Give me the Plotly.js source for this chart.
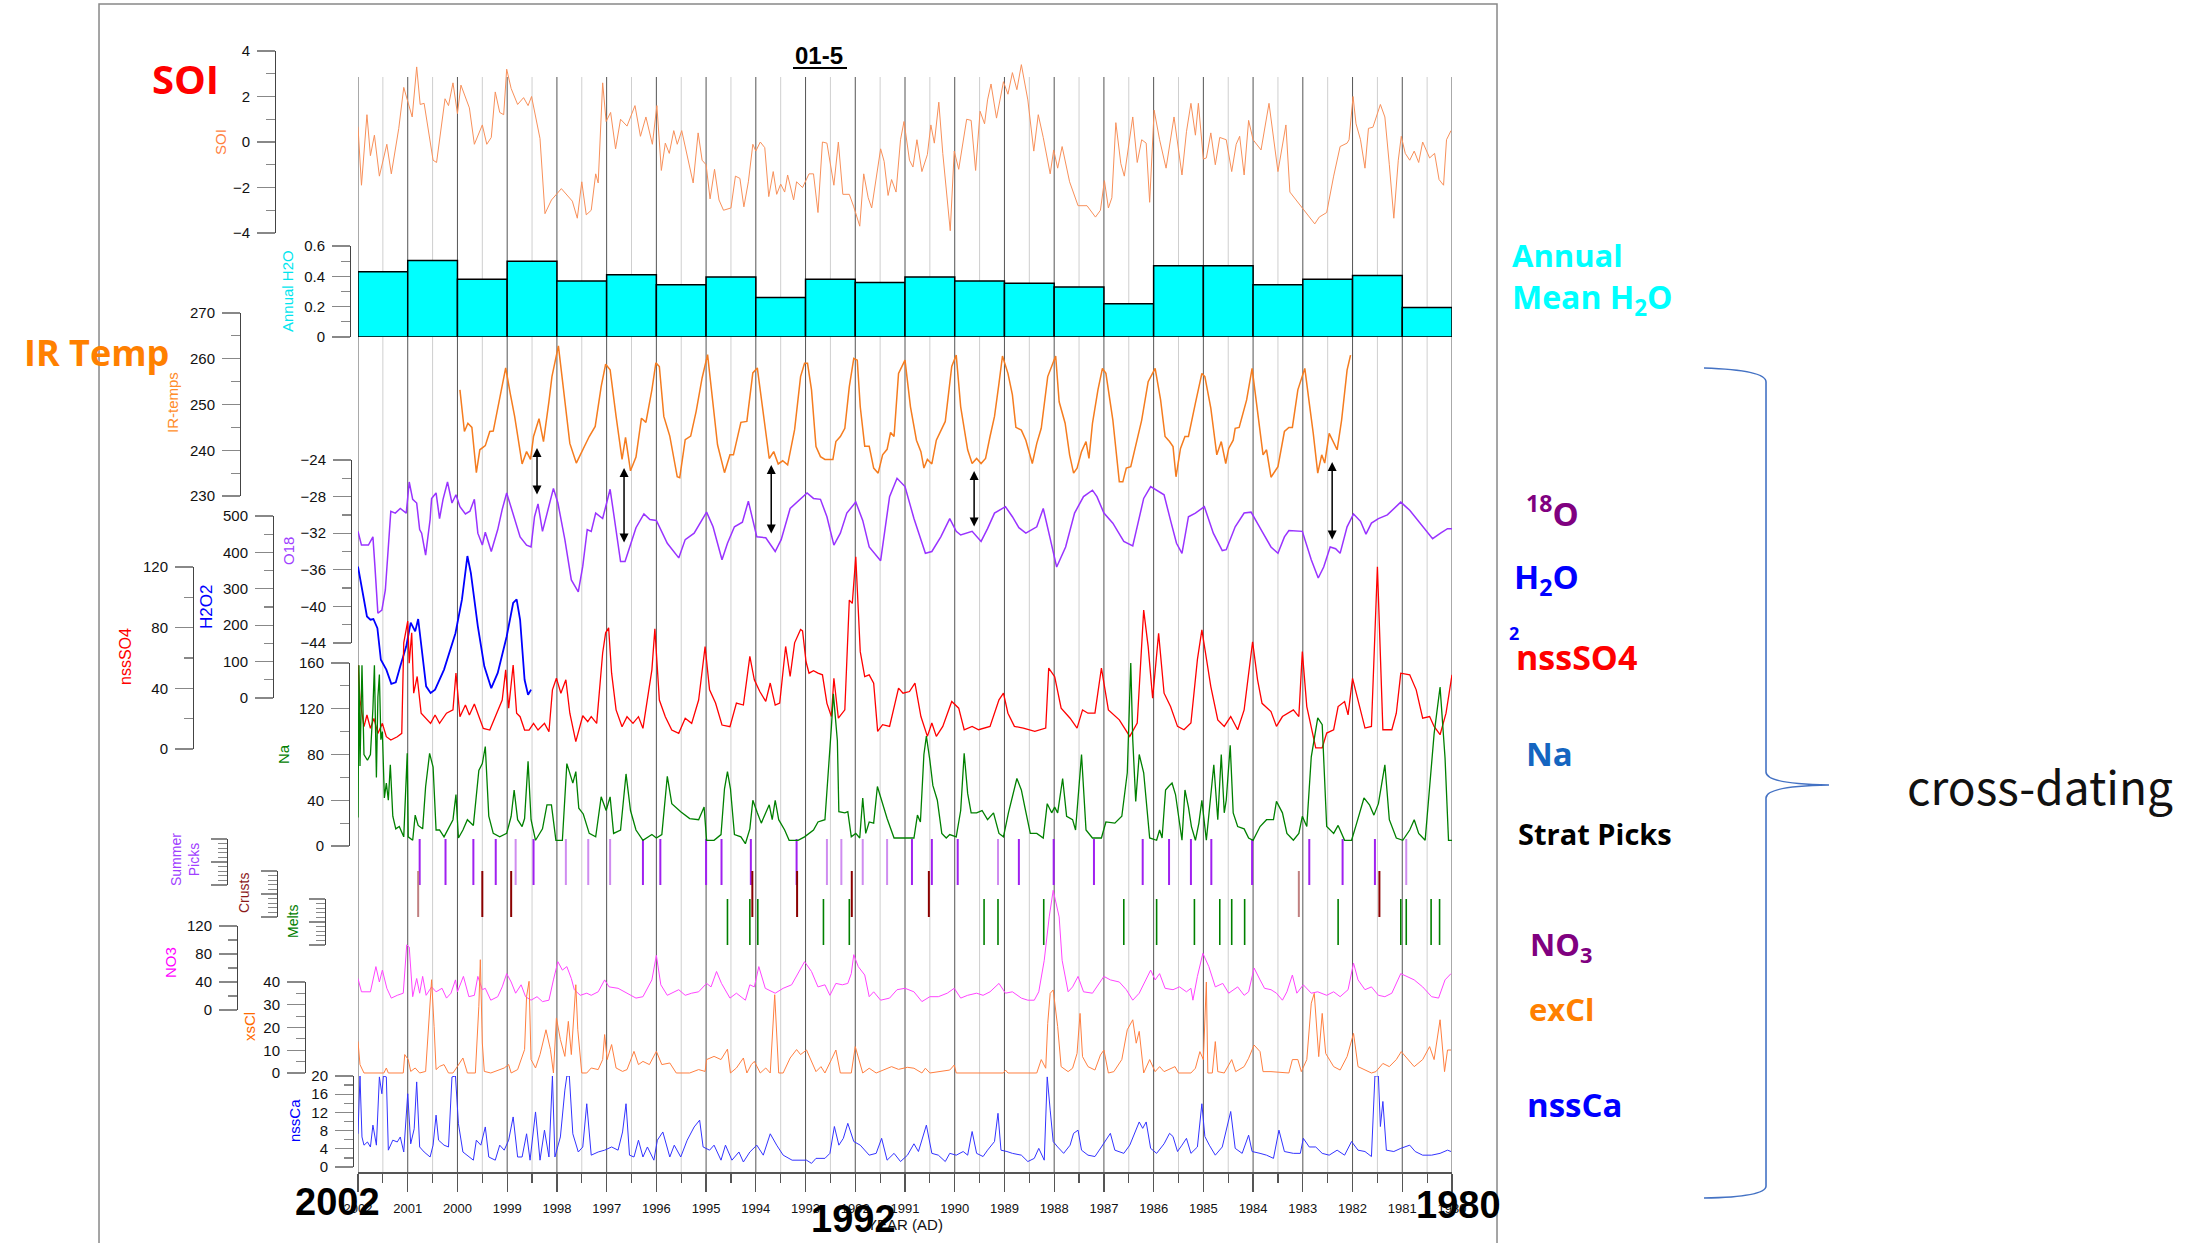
<!DOCTYPE html>
<html><head><meta charset="utf-8">
<script src="https://cdn.plot.ly/plotly-3.0.1.min.js"></script>
<style>html,body{margin:0;padding:0;background:#fff}#chart{width:2210px;height:1243px}</style>
</head><body><div id="chart"></div>
<script>
// ---------------- DATA ----------------
const majorYears = [1980,1981,1982,1983,1984,1985,1986,1987,1988,1989,1990,1991,1992,1993,1994,1995,1996,1997,1998,1999,2000,2001,2002];
const halfYears = [1980.5,1981.5,1982.5,1983.5,1984.5,1985.5,1986.5,1987.5,1988.5,1989.5,1990.5,1991.5,1992.5,1993.5,1994.5,1995.5,1996.5,1997.5,1998.5,1999.5,2000.5,2001.5];

const soi = [[2002.00,0.67],[2001.93,-1.9],[2001.82,1.2],[2001.75,-0.6],[2001.67,0.3],[2001.57,-1.5],[2001.42,-0.1],[2001.33,-1.4],[2001.18,0.6],[2001.08,2.4],[2000.91,1.1],[2000.82,3.3],[2000.75,1.65],[2000.67,1.7],[2000.49,-0.8],[2000.42,-0.9],[2000.25,1.9],[2000.18,1.6],[2000.09,2.6],[2000.00,1.25],[1999.93,2.5],[1999.76,1.5],[1999.66,-0.1],[1999.50,0.75],[1999.41,-0.1],[1999.32,0.2],[1999.24,2.2],[1999.15,1.3],[1999.07,1.2],[1999.01,3.2],[1998.92,2.35],[1998.79,1.65],[1998.67,1.95],[1998.58,1.6],[1998.51,2.0],[1998.34,0.15],[1998.24,-3.15],[1998.11,-2.55],[1997.91,-2.05],[1997.83,-2.25],[1997.69,-2.6],[1997.59,-3.35],[1997.50,-1.75],[1997.41,-3.2],[1997.31,-3.0],[1997.22,-1.4],[1997.17,-1.8],[1997.08,2.6],[1997.01,0.9],[1996.92,1.3],[1996.82,-0.3],[1996.72,1.0],[1996.59,0.7],[1996.43,1.6],[1996.32,0.25],[1996.21,1.1],[1996.08,-0.1],[1995.99,1.6],[1995.90,-1.25],[1995.82,-0.05],[1995.74,-0.5],[1995.65,0.5],[1995.58,-0.1],[1995.49,0.5],[1995.35,-0.9],[1995.26,-1.8],[1995.16,0.4],[1995.08,-0.8],[1995.00,-1.0],[1994.92,-2.5],[1994.83,-1.2],[1994.74,-2.55],[1994.65,-3.0],[1994.50,-2.9],[1994.41,-1.5],[1994.32,-1.6],[1994.24,-2.85],[1994.15,-1.75],[1994.06,-0.1],[1994.00,-0.4],[1993.91,0.0],[1993.82,-0.25],[1993.74,-2.4],[1993.65,-1.3],[1993.58,-2.3],[1993.50,-1.85],[1993.42,-2.2],[1993.36,-1.45],[1993.24,-2.55],[1993.18,-1.75],[1993.06,-2.0],[1992.93,-1.4],[1992.84,-1.4],[1992.75,-3.1],[1992.66,0.0],[1992.57,-0.05],[1992.43,-1.9],[1992.34,0.0],[1992.25,-2.3],[1992.12,-2.3],[1992.03,-2.85],[1991.91,-3.7],[1991.83,-1.4],[1991.74,-2.45],[1991.67,-2.9],[1991.49,-0.3],[1991.42,-0.85],[1991.34,-2.35],[1991.27,-1.65],[1991.18,-2.2],[1991.09,0.1],[1991.02,0.9],[1990.91,-0.8],[1990.84,-1.1],[1990.76,0.1],[1990.66,-1.3],[1990.55,-0.55],[1990.48,0.75],[1990.41,-0.05],[1990.32,1.75],[1990.24,-0.5],[1990.09,-3.9],[1990.01,-0.4],[1989.92,-1.2],[1989.76,1.0],[1989.67,0.95],[1989.58,-1.25],[1989.49,1.35],[1989.40,0.8],[1989.34,1.85],[1989.27,2.55],[1989.16,1.05],[1989.02,2.65],[1988.93,2.1],[1988.84,3.05],[1988.75,2.3],[1988.66,3.4],[1988.53,1.85],[1988.41,-0.4],[1988.32,1.2],[1988.22,0.2],[1988.08,-1.4],[1988.01,-0.35],[1987.93,-1.15],[1987.84,-0.2],[1987.69,-1.75],[1987.52,-2.8],[1987.34,-2.8],[1987.17,-3.3],[1987.07,-3.0],[1986.99,-1.7],[1986.91,-2.9],[1986.84,-2.45],[1986.76,0.85],[1986.66,-0.95],[1986.59,-1.5],[1986.42,1.1],[1986.33,-0.9],[1986.24,0.1],[1986.15,-0.05],[1986.08,-2.65],[1985.99,1.4],[1985.88,0.1],[1985.75,-1.15],[1985.59,1.1],[1985.43,-1.45],[1985.34,0.45],[1985.25,1.7],[1985.16,0.3],[1985.10,1.7],[1985.00,-0.75],[1984.94,-0.7],[1984.85,0.4],[1984.76,-1.0],[1984.67,0.2],[1984.54,0.1],[1984.43,-1.3],[1984.34,-0.1],[1984.27,0.25],[1984.18,-1.45],[1984.09,0.95],[1984.00,0.1],[1983.84,-0.35],[1983.68,1.7],[1983.50,-1.3],[1983.34,0.75],[1983.26,-2.2],[1983.05,-2.8],[1982.76,-3.6],[1982.67,-3.3],[1982.52,-3.1],[1982.38,-1.5],[1982.25,-0.2],[1982.11,-0.05],[1982.07,0.1],[1981.99,2.0],[1981.93,0.8],[1981.84,0.1],[1981.75,-1.15],[1981.68,0.6],[1981.59,0.65],[1981.44,1.65],[1981.35,1.1],[1981.26,-1.0],[1981.17,-3.35],[1981.08,-0.8],[1981.02,0.25],[1980.94,-0.5],[1980.85,-0.8],[1980.76,-0.4],[1980.67,-0.9],[1980.59,0.0],[1980.45,-0.7],[1980.35,-0.5],[1980.26,-1.65],[1980.17,-1.9],[1980.11,0.1],[1980.02,0.5]];

const h2oYears = [2001.5,2000.5,1999.5,1998.5,1997.5,1996.5,1995.5,1994.5,1993.5,1992.5,1991.5,1990.5,1989.5,1988.5,1987.5,1986.5,1985.5,1984.5,1983.5,1982.5,1981.5,1980.5];
const h2oMean = [0.43,0.505,0.38,0.50,0.37,0.41,0.345,0.395,0.26,0.38,0.36,0.395,0.37,0.355,0.33,0.22,0.47,0.47,0.345,0.38,0.405,0.195];

const irTemp = [[1999.95,253.2],[1999.86,244.1],[1999.79,245.9],[1999.71,245.0],[1999.62,235.1],[1999.55,240.1],[1999.44,241.0],[1999.35,244.1],[1999.28,244.2],[1999.15,251.0],[1999.03,258.0],[1998.94,252.5],[1998.85,247.4],[1998.70,237.0],[1998.61,239.7],[1998.53,238.0],[1998.47,243.0],[1998.36,246.9],[1998.27,241.9],[1998.16,250.7],[1998.10,256.1],[1997.97,262.8],[1997.84,251.0],[1997.74,241.5],[1997.61,237.2],[1997.48,240.1],[1997.35,243.0],[1997.23,245.2],[1997.11,253.9],[1997.02,258.8],[1996.93,257.6],[1996.81,247.4],[1996.69,238.0],[1996.62,242.8],[1996.52,235.5],[1996.41,238.5],[1996.30,247.0],[1996.21,246.1],[1996.09,253.2],[1996.01,259.1],[1995.94,258.3],[1995.85,247.4],[1995.73,243.1],[1995.58,234.2],[1995.53,234.0],[1995.42,242.3],[1995.31,243.1],[1995.20,248.5],[1995.08,255.8],[1994.97,260.9],[1994.88,252.5],[1994.77,241.2],[1994.63,235.1],[1994.52,239.0],[1994.45,239.0],[1994.30,246.1],[1994.18,246.3],[1994.06,256.9],[1993.97,258.0],[1993.86,248.8],[1993.73,238.2],[1993.64,239.7],[1993.55,237.0],[1993.46,237.7],[1993.36,236.8],[1993.22,244.5],[1993.10,256.1],[1993.02,259.0],[1992.96,259.0],[1992.88,253.2],[1992.79,240.8],[1992.70,238.6],[1992.61,238.0],[1992.45,238.0],[1992.39,241.9],[1992.30,243.0],[1992.21,244.8],[1992.12,253.9],[1992.03,260.1],[1991.96,259.7],[1991.90,249.5],[1991.81,240.9],[1991.72,240.9],[1991.63,236.1],[1991.54,235.0],[1991.45,239.0],[1991.36,240.2],[1991.29,243.9],[1991.22,243.0],[1991.13,256.8],[1991.00,259.7],[1990.89,249.5],[1990.77,242.2],[1990.68,239.7],[1990.62,236.1],[1990.55,238.0],[1990.46,237.0],[1990.37,242.2],[1990.28,244.4],[1990.19,246.3],[1990.06,258.3],[1989.97,260.8],[1989.88,249.5],[1989.74,240.1],[1989.65,237.1],[1989.56,238.2],[1989.47,237.1],[1989.38,238.2],[1989.29,243.0],[1989.20,247.4],[1989.11,254.6],[1989.04,260.6],[1988.93,256.8],[1988.84,252.1],[1988.77,245.0],[1988.66,244.4],[1988.57,242.2],[1988.44,237.1],[1988.35,241.5],[1988.26,244.8],[1988.13,256.1],[1987.97,260.6],[1987.90,250.6],[1987.78,245.9],[1987.69,239.0],[1987.61,235.0],[1987.54,236.1],[1987.45,239.7],[1987.36,241.9],[1987.30,238.2],[1987.23,245.9],[1987.12,253.2],[1987.03,257.9],[1986.96,256.8],[1986.82,246.6],[1986.69,233.1],[1986.62,233.1],[1986.55,236.1],[1986.46,236.4],[1986.38,240.1],[1986.24,246.6],[1986.11,255.0],[1985.97,257.9],[1985.86,251.0],[1985.77,243.0],[1985.68,241.9],[1985.61,240.8],[1985.55,234.2],[1985.46,240.4],[1985.37,243.0],[1985.30,243.0],[1985.16,250.3],[1985.03,256.8],[1984.97,256.1],[1984.85,249.2],[1984.73,239.0],[1984.64,241.9],[1984.55,237.1],[1984.49,240.4],[1984.40,242.2],[1984.36,244.8],[1984.28,245.0],[1984.13,251.0],[1984.02,257.9],[1983.91,248.8],[1983.80,239.0],[1983.73,240.1],[1983.64,234.1],[1983.50,236.4],[1983.37,244.1],[1983.28,245.0],[1983.21,245.0],[1983.10,253.2],[1982.96,257.9],[1982.87,250.3],[1982.79,243.7],[1982.70,235.0],[1982.62,239.0],[1982.56,237.2],[1982.47,243.7],[1982.31,240.1],[1982.22,246.6],[1982.11,257.5],[1982.04,260.8]];

const o18 = [[2002.00,-31.8],[2001.93,-33.3],[2001.79,-33.3],[2001.70,-32.4],[2001.66,-35.6],[2001.60,-40.75],[2001.52,-40.4],[2001.45,-38.2],[2001.34,-29.6],[2001.25,-29.8],[2001.15,-29.3],[2001.03,-29.8],[2000.97,-26.4],[2000.90,-28.3],[2000.82,-28.7],[2000.76,-31.6],[2000.72,-32.0],[2000.64,-34.4],[2000.55,-30.5],[2000.52,-28.2],[2000.43,-27.6],[2000.36,-30.4],[2000.29,-28.3],[2000.20,-26.4],[2000.11,-28.7],[2000.03,-27.8],[1999.95,-29.1],[1999.84,-29.9],[1999.75,-29.6],[1999.66,-28.3],[1999.59,-32.0],[1999.50,-33.3],[1999.44,-31.9],[1999.32,-34.0],[1999.19,-31.6],[1999.10,-29.4],[1999.01,-27.6],[1998.88,-29.8],[1998.74,-32.4],[1998.61,-33.3],[1998.52,-33.5],[1998.45,-30.2],[1998.38,-28.8],[1998.29,-31.8],[1998.20,-30.0],[1998.07,-27.1],[1997.98,-28.7],[1997.84,-32.7],[1997.71,-37.1],[1997.57,-38.4],[1997.48,-35.6],[1997.39,-31.6],[1997.31,-31.8],[1997.22,-29.8],[1997.08,-30.4],[1996.93,-27.2],[1996.86,-29.8],[1996.72,-35.1],[1996.63,-35.1],[1996.54,-33.5],[1996.41,-31.4],[1996.25,-29.9],[1996.13,-30.5],[1996.00,-30.6],[1995.78,-33.1],[1995.55,-34.7],[1995.42,-32.7],[1995.24,-32.0],[1994.99,-29.7],[1994.86,-31.3],[1994.68,-34.9],[1994.57,-33.1],[1994.43,-31.3],[1994.27,-30.8],[1994.15,-28.5],[1993.98,-32.4],[1993.80,-32.5],[1993.61,-34.0],[1993.49,-32.7],[1993.31,-29.3],[1993.10,-28.3],[1992.97,-27.6],[1992.84,-28.2],[1992.70,-28.3],[1992.57,-30.2],[1992.43,-33.3],[1992.30,-32.0],[1992.17,-29.8],[1991.99,-28.6],[1991.85,-30.6],[1991.72,-33.5],[1991.49,-35.0],[1991.31,-28.0],[1991.16,-26.0],[1991.00,-26.9],[1990.82,-30.4],[1990.59,-34.2],[1990.46,-34.0],[1990.28,-32.4],[1990.10,-30.4],[1989.97,-31.8],[1989.88,-32.2],[1989.65,-31.8],[1989.47,-32.9],[1989.34,-31.5],[1989.20,-29.8],[1988.98,-29.1],[1988.84,-30.2],[1988.71,-31.4],[1988.57,-32.0],[1988.35,-31.3],[1988.22,-29.3],[1988.08,-32.6],[1987.95,-35.7],[1987.77,-33.5],[1987.59,-29.8],[1987.41,-28.0],[1987.23,-27.3],[1987.14,-28.0],[1987.00,-29.8],[1986.82,-30.9],[1986.60,-32.9],[1986.42,-33.4],[1986.33,-31.3],[1986.20,-28.2],[1986.06,-26.9],[1985.93,-27.3],[1985.79,-27.8],[1985.66,-30.6],[1985.54,-33.1],[1985.43,-34.2],[1985.30,-30.2],[1985.16,-29.8],[1984.98,-29.1],[1984.80,-32.0],[1984.62,-33.9],[1984.54,-33.8],[1984.36,-31.3],[1984.18,-29.8],[1984.04,-29.7],[1983.82,-31.8],[1983.64,-33.5],[1983.50,-34.2],[1983.37,-32.4],[1983.28,-31.7],[1983.01,-31.8],[1982.83,-34.9],[1982.69,-36.9],[1982.58,-35.7],[1982.45,-33.5],[1982.34,-33.7],[1982.25,-34.2],[1982.11,-31.3],[1981.98,-29.9],[1981.84,-30.7],[1981.73,-32.1],[1981.62,-30.9],[1981.48,-30.4],[1981.30,-30.0],[1981.03,-28.6],[1980.85,-29.5],[1980.59,-31.3],[1980.39,-32.6],[1980.23,-32.0],[1980.09,-31.5],[1980.00,-31.5]];

const h2o2 = [[2002.00,361],[2001.96,334],[2001.88,270],[2001.82,224],[2001.75,215],[2001.69,217],[2001.61,192],[2001.54,105],[2001.43,78],[2001.33,39],[2001.24,43],[2001.15,87],[2001.03,142],[2000.94,207],[2000.85,183],[2000.79,217],[2000.72,133],[2000.63,32],[2000.54,14],[2000.45,23],[2000.27,78],[2000.04,178],[1999.91,270],[1999.80,390],[1999.73,343],[1999.59,197],[1999.46,87],[1999.32,27],[1999.19,69],[1999.01,169],[1998.88,261],[1998.81,271],[1998.74,215],[1998.65,50],[1998.58,9],[1998.52,23]];

const nssSO4 = [[2002.00,55.4],[2001.96,32.3],[2001.88,14.7],[2001.82,22.4],[2001.75,13.6],[2001.68,20.2],[2001.60,10.3],[2001.51,16.9],[2001.43,8.1],[2001.34,5.9],[2001.21,8.1],[2001.12,10.3],[2001.08,70.0],[2001.00,84.3],[2000.97,56.5],[2000.92,76.6],[2000.88,36.8],[2000.81,47.8],[2000.73,23.6],[2000.64,20.2],[2000.54,16.9],[2000.45,22.4],[2000.36,16.9],[2000.22,23.6],[2000.09,25.8],[2000.03,50.0],[1999.95,21.3],[1999.84,29.0],[1999.76,22.4],[1999.66,29.7],[1999.59,23.6],[1999.48,13.6],[1999.35,12.5],[1999.21,23.6],[1999.10,32.3],[1999.03,52.2],[1998.97,26.9],[1998.88,55.4],[1998.81,23.6],[1998.74,21.3],[1998.65,12.5],[1998.56,12.5],[1998.47,16.9],[1998.38,12.5],[1998.25,16.9],[1998.16,11.4],[1998.09,39.0],[1998.01,46.7],[1997.92,36.8],[1997.82,45.6],[1997.74,23.6],[1997.62,4.9],[1997.48,21.9],[1997.38,18.0],[1997.31,21.3],[1997.20,16.9],[1997.08,63.3],[1997.02,76.6],[1996.96,79.9],[1996.90,50.0],[1996.81,25.8],[1996.69,14.7],[1996.59,21.3],[1996.47,16.9],[1996.36,21.3],[1996.27,13.6],[1996.09,52.2],[1996.03,79.2],[1995.94,32.3],[1995.82,21.3],[1995.69,12.5],[1995.55,10.3],[1995.42,20.2],[1995.29,16.9],[1995.15,32.3],[1995.02,67.6],[1994.93,39.0],[1994.81,30.3],[1994.68,15.8],[1994.52,14.7],[1994.39,30.3],[1994.25,29.0],[1994.12,61.1],[1994.03,45.6],[1993.92,37.9],[1993.80,31.4],[1993.71,43.5],[1993.61,29.0],[1993.52,30.3],[1993.40,67.6],[1993.31,47.8],[1993.22,70.0],[1993.10,78.8],[1993.06,77.9],[1992.99,57.5],[1992.93,50.0],[1992.84,51.6],[1992.75,50.0],[1992.66,48.9],[1992.57,30.1],[1992.48,21.4],[1992.43,46.6],[1992.34,20.3],[1992.21,25.8],[1992.12,98.2],[1992.06,96.0],[1991.99,126.8],[1991.90,64.2],[1991.81,47.7],[1991.72,48.9],[1991.63,43.4],[1991.55,11.6],[1991.45,16.0],[1991.31,14.9],[1991.13,40.1],[1991.04,36.8],[1990.91,37.9],[1990.80,43.4],[1990.68,21.4],[1990.55,8.3],[1990.46,17.1],[1990.37,8.3],[1990.24,14.9],[1990.06,31.3],[1989.92,26.9],[1989.81,12.7],[1989.65,14.9],[1989.52,12.7],[1989.29,14.9],[1989.11,32.4],[1989.02,36.8],[1988.93,23.6],[1988.80,14.9],[1988.62,13.8],[1988.39,11.6],[1988.17,13.8],[1988.11,53.4],[1987.99,47.7],[1987.86,26.9],[1987.68,20.3],[1987.54,13.8],[1987.43,25.8],[1987.32,23.6],[1987.18,23.6],[1987.05,53.4],[1986.91,25.8],[1986.69,19.2],[1986.48,8.3],[1986.33,17.1],[1986.20,91.6],[1986.11,67.5],[1986.02,33.5],[1985.90,76.2],[1985.79,36.8],[1985.66,28.0],[1985.52,14.9],[1985.39,12.7],[1985.25,17.1],[1985.12,58.9],[1985.03,78.6],[1984.94,58.9],[1984.85,41.2],[1984.71,19.2],[1984.58,14.9],[1984.45,21.4],[1984.31,12.7],[1984.18,25.8],[1984.09,50.0],[1984.01,70.7],[1983.91,45.6],[1983.82,30.1],[1983.64,24.7],[1983.53,14.9],[1983.41,21.4],[1983.19,25.8],[1983.08,21.4],[1983.01,64.2],[1982.92,28.0],[1982.74,0.8],[1982.61,0.8],[1982.52,10.5],[1982.38,12.7],[1982.29,28.0],[1982.16,31.3],[1982.09,22.5],[1982.00,46.6],[1981.89,31.3],[1981.75,13.8],[1981.62,14.9],[1981.50,120.2],[1981.39,12.7],[1981.21,12.7],[1981.12,23.6],[1981.03,50.0],[1980.85,48.9],[1980.72,39.0],[1980.59,20.3],[1980.45,21.4],[1980.36,14.9],[1980.24,9.4],[1980.12,23.6],[1980.00,48.9]];

const na = [[2002.00,25],[2001.98,158],[2001.96,70],[2001.92,158],[2001.88,80],[2001.81,75],[2001.75,80],[2001.70,120],[2001.67,158],[2001.63,60],[2001.60,130],[2001.57,150],[2001.54,93],[2001.51,100],[2001.47,42],[2001.43,55],[2001.39,40],[2001.35,71],[2001.30,26],[2001.24,15],[2001.17,17],[2001.08,8],[2001.01,81],[2000.99,8],[2000.90,5],[2000.85,27],[2000.79,18],[2000.70,15],[2000.64,52],[2000.56,81],[2000.49,69],[2000.43,14],[2000.36,14],[2000.27,8],[2000.09,23],[2000.03,45],[1999.98,7],[1999.89,14],[1999.80,23],[1999.68,18],[1999.57,66],[1999.50,72],[1999.44,87],[1999.37,26],[1999.28,11],[1999.15,8],[1999.01,11],[1998.92,26],[1998.86,49],[1998.79,23],[1998.70,17],[1998.65,24],[1998.58,74],[1998.52,23],[1998.43,5],[1998.29,15],[1998.20,36],[1998.11,36],[1998.02,5],[1997.89,5],[1997.80,72],[1997.68,55],[1997.62,65],[1997.56,33],[1997.47,28],[1997.35,11],[1997.22,8],[1997.11,43],[1997.01,31],[1996.93,43],[1996.86,11],[1996.72,14],[1996.61,63],[1996.52,31],[1996.41,14],[1996.27,5],[1996.09,10],[1996.00,7],[1995.89,10],[1995.78,61],[1995.69,37],[1995.51,30],[1995.33,24],[1995.15,23],[1995.04,34],[1994.99,5],[1994.84,5],[1994.70,10],[1994.63,50],[1994.57,65],[1994.51,50],[1994.43,10],[1994.30,8],[1994.21,2],[1994.12,15],[1994.06,40],[1993.97,29],[1993.89,20],[1993.73,36],[1993.67,23],[1993.61,40],[1993.54,23],[1993.42,14],[1993.33,5],[1993.15,5],[1993.02,8],[1992.84,14],[1992.75,21],[1992.61,23],[1992.54,64],[1992.48,104],[1992.44,133],[1992.36,92],[1992.33,30],[1992.21,29],[1992.15,30],[1992.08,8],[1991.99,11],[1991.91,7],[1991.85,42],[1991.79,11],[1991.72,21],[1991.63,20],[1991.555,52],[1991.47,39],[1991.36,24],[1991.22,7],[1990.95,7],[1990.82,7],[1990.75,27],[1990.69,21],[1990.62,80],[1990.57,96],[1990.50,75],[1990.44,53],[1990.35,40],[1990.26,11],[1990.17,7],[1990.10,10],[1989.97,8],[1989.88,31],[1989.81,81],[1989.74,46],[1989.67,29],[1989.56,29],[1989.45,31],[1989.34,23],[1989.22,29],[1989.11,11],[1989.02,8],[1988.92,29],[1988.75,59],[1988.66,49],[1988.59,34],[1988.48,11],[1988.35,11],[1988.22,7],[1988.14,37],[1988.05,29],[1987.99,34],[1987.93,29],[1987.83,59],[1987.75,26],[1987.63,23],[1987.57,14],[1987.45,80],[1987.36,14],[1987.23,7],[1987.05,7],[1986.96,21],[1986.78,20],[1986.64,26],[1986.53,64],[1986.46,160],[1986.42,93],[1986.36,39],[1986.29,80],[1986.20,64],[1986.08,7],[1985.94,5],[1985.88,14],[1985.83,7],[1985.76,49],[1985.70,52],[1985.63,55],[1985.56,45],[1985.43,5],[1985.37,49],[1985.30,34],[1985.24,17],[1985.16,5],[1985.09,20],[1985.03,40],[1984.94,5],[1984.85,42],[1984.79,71],[1984.71,23],[1984.64,80],[1984.58,29],[1984.54,40],[1984.46,88],[1984.40,29],[1984.31,17],[1984.18,15],[1984.09,7],[1984.00,5],[1983.86,17],[1983.73,23],[1983.59,23],[1983.53,39],[1983.41,29],[1983.32,11],[1983.19,5],[1983.08,11],[1983.01,26],[1982.92,17],[1982.83,78],[1982.70,112],[1982.61,106],[1982.52,17],[1982.38,11],[1982.29,18],[1982.16,5],[1982.02,5],[1981.93,18],[1981.77,42],[1981.66,36],[1981.57,27],[1981.48,37],[1981.35,71],[1981.26,23],[1981.12,7],[1980.99,5],[1980.85,14],[1980.76,23],[1980.67,11],[1980.54,5],[1980.36,98],[1980.24,139],[1980.14,77],[1980.07,5],[1980.00,5]];

const summerPicks = [2000.76,2000.24,1999.68,1999.23,1998.47,1996.27,1995.92,1995.00,1994.69,1994.10,1993.18,1990.86,1990.46,1989.94,1988.71,1988.01,1987.20,1986.22,1985.69,1985.25,1984.84,1984.02,1982.87,1982.20,1981.55];
const summerPicksFaint = [1998.83,1997.82,1997.37,1996.93,1992.57,1992.28,1991.85,1991.36,1989.13,1980.92];
const crusts = [1999.50,1998.92,1994.07,1993.17,1992.07,1990.52,1981.46];
const crustsFaint = [2000.79,1983.08];
const melts = [1994.57,1994.12,1993.96,1992.64,1992.12,1989.41,1989.13,1988.21,1986.60,1985.94,1985.18,1984.67,1984.43,1984.17,1982.29,1981.03,1980.92,1980.42,1980.25];

const no3 = [[2002.00,45],[2001.93,26],[2001.75,26],[2001.64,62],[2001.57,40],[2001.51,57],[2001.42,31],[2001.33,17],[2001.21,21],[2001.09,24],[2001.02,93],[2000.97,90],[2000.90,19],[2000.82,45],[2000.76,24],[2000.70,48],[2000.63,21],[2000.52,33],[2000.43,26],[2000.31,31],[2000.22,17],[2000.13,24],[2000.04,43],[2000.00,26],[1999.88,48],[1999.77,19],[1999.66,21],[1999.59,48],[1999.50,29],[1999.44,31],[1999.33,14],[1999.19,19],[1999.10,33],[1999.01,52],[1998.92,40],[1998.83,24],[1998.72,36],[1998.63,19],[1998.52,14],[1998.40,19],[1998.29,12],[1998.16,14],[1998.07,43],[1997.98,69],[1997.89,57],[1997.80,62],[1997.71,45],[1997.65,29],[1997.53,21],[1997.40,24],[1997.31,21],[1997.17,26],[1997.04,43],[1996.95,33],[1996.77,31],[1996.59,24],[1996.41,17],[1996.27,19],[1996.09,43],[1996.00,78],[1995.91,36],[1995.78,21],[1995.69,24],[1995.55,29],[1995.42,21],[1995.29,24],[1995.15,26],[1994.99,38],[1994.90,33],[1994.79,55],[1994.69,38],[1994.52,17],[1994.39,24],[1994.21,14],[1994.12,36],[1994.03,33],[1993.94,62],[1993.81,31],[1993.61,24],[1993.45,31],[1993.28,36],[1993.15,52],[1993.02,69],[1992.88,55],[1992.75,33],[1992.61,36],[1992.51,21],[1992.39,38],[1992.26,36],[1992.15,38],[1992.08,52],[1992.03,79],[1991.94,62],[1991.81,50],[1991.72,19],[1991.63,26],[1991.49,14],[1991.31,17],[1991.16,29],[1991.00,31],[1990.82,26],[1990.66,12],[1990.50,19],[1990.33,19],[1990.15,24],[1990.01,31],[1989.88,17],[1989.74,21],[1989.56,24],[1989.43,21],[1989.29,26],[1989.11,38],[1988.98,24],[1988.84,26],[1988.66,17],[1988.53,14],[1988.40,14],[1988.31,26],[1988.20,71],[1988.10,133],[1988.02,171],[1987.90,133],[1987.84,71],[1987.72,26],[1987.63,33],[1987.52,48],[1987.41,26],[1987.23,24],[1987.09,38],[1987.00,48],[1986.87,43],[1986.69,40],[1986.55,29],[1986.42,14],[1986.29,24],[1986.15,43],[1986.06,57],[1985.97,43],[1985.88,52],[1985.77,31],[1985.61,29],[1985.48,33],[1985.34,26],[1985.25,31],[1985.21,14],[1985.12,48],[1985.01,81],[1984.89,62],[1984.76,33],[1984.61,38],[1984.49,24],[1984.31,33],[1984.18,21],[1984.09,26],[1983.98,60],[1983.86,43],[1983.77,31],[1983.64,29],[1983.53,24],[1983.41,14],[1983.32,26],[1983.21,50],[1983.12,24],[1982.99,36],[1982.83,24],[1982.70,26],[1982.52,21],[1982.38,26],[1982.25,19],[1982.09,29],[1981.98,67],[1981.89,43],[1981.75,29],[1981.62,33],[1981.48,21],[1981.35,19],[1981.21,24],[1981.03,52],[1980.90,48],[1980.76,43],[1980.59,33],[1980.41,19],[1980.27,17],[1980.14,43],[1980.02,52]];

const xsCl = [[2002.00,13.9],[2001.96,3.7],[2001.88,0],[2001.48,0],[2001.43,2.2],[2001.39,0],[2001.09,0],[2001.06,8.1],[2000.99,5.9],[2000.94,0.7],[2000.85,2.2],[2000.76,0],[2000.64,0.7],[2000.58,19],[2000.52,41],[2000.47,20.5],[2000.43,1.5],[2000.36,2.9],[2000.27,3.7],[2000.18,0],[2000.09,0],[2000.00,2.9],[1999.89,6.6],[1999.80,0],[1999.64,0],[1999.57,29.3],[1999.54,49.8],[1999.50,13.2],[1999.46,0.7],[1999.33,0],[1999.06,2.2],[1998.97,3.7],[1998.92,0],[1998.79,1.5],[1998.65,10.3],[1998.61,33.7],[1998.56,40.3],[1998.52,5.9],[1998.43,2.2],[1998.34,8.1],[1998.22,19],[1998.13,10.3],[1998.07,0],[1998.01,24.2],[1997.93,14.7],[1997.84,7.3],[1997.77,22.7],[1997.71,8.1],[1997.62,38.8],[1997.58,19],[1997.50,0],[1997.40,0],[1997.31,2.2],[1997.17,1.5],[1997.08,5.9],[1997.04,16.9],[1996.99,5.9],[1996.90,12.5],[1996.81,2.2],[1996.68,0.7],[1996.59,1.5],[1996.45,9.5],[1996.36,3.7],[1996.27,5.1],[1996.14,3.7],[1996.00,9.5],[1995.89,3.7],[1995.73,4.4],[1995.60,0],[1995.33,0],[1995.15,1.5],[1995.02,0.7],[1994.99,5.9],[1994.84,7.3],[1994.70,5.9],[1994.57,10.5],[1994.51,0],[1994.39,2.2],[1994.25,6.6],[1994.18,0],[1994.09,3.7],[1994.03,5.1],[1993.91,0],[1993.80,2.2],[1993.71,0],[1993.62,34.4],[1993.54,0],[1993.45,0],[1993.31,6.6],[1993.18,10.3],[1993.10,8.1],[1992.98,10.1],[1992.88,5],[1992.79,0.6],[1992.69,2.8],[1992.61,0],[1992.48,5.9],[1992.39,10.1],[1992.30,0],[1992.08,0],[1992.00,11.6],[1991.91,5],[1991.85,0],[1991.72,2.1],[1991.58,0],[1991.27,2.8],[1991.13,1.6],[1990.95,2.5],[1990.82,2.1],[1990.66,0],[1990.59,2.1],[1990.50,0],[1990.10,1.3],[1990.01,3.5],[1989.97,0],[1989.02,0],[1988.98,1.3],[1988.93,0],[1988.35,0],[1988.26,5.9],[1988.17,2.1],[1988.13,21.8],[1988.08,35],[1988.02,36.5],[1987.93,20.4],[1987.86,2.8],[1987.72,0.6],[1987.63,2.1],[1987.54,8.6],[1987.48,26.2],[1987.43,7.2],[1987.32,2.8],[1987.18,1.3],[1987.07,7.9],[1987.00,10.1],[1986.91,0],[1986.80,0.6],[1986.64,5.9],[1986.53,19],[1986.42,23.4],[1986.35,13.1],[1986.29,18.3],[1986.20,0],[1986.08,5.9],[1985.97,0.6],[1985.88,2.8],[1985.79,0.6],[1985.57,2.8],[1985.50,0],[1985.25,0],[1985.16,2.1],[1985.07,9.4],[1985.00,5.9],[1984.94,40],[1984.91,0],[1984.82,0],[1984.76,13.8],[1984.71,0.6],[1984.58,0],[1984.43,5.9],[1984.35,0.6],[1984.18,2.8],[1984.09,6.5],[1983.98,12.3],[1983.86,9.4],[1983.80,0.6],[1983.64,0.6],[1983.28,0],[1983.21,5.9],[1983.10,5.9],[1983.03,0.6],[1982.92,5.9],[1982.83,30.7],[1982.77,35],[1982.68,7.2],[1982.61,26.2],[1982.54,8.6],[1982.38,2.8],[1982.25,1.3],[1982.11,7.2],[1981.98,17.4],[1981.89,2.8],[1981.75,1.3],[1981.62,0],[1981.53,0.6],[1981.39,4.2],[1981.26,2.8],[1981.12,5.9],[1981.02,9.4],[1980.90,6.5],[1980.76,2.8],[1980.59,5.9],[1980.45,11.6],[1980.36,5.9],[1980.24,23.4],[1980.15,0.6],[1980.09,10.1],[1980.02,10.1]];

const nssCa = [[2002.00,7.3],[2001.96,20],[2001.92,6.6],[2001.88,4.8],[2001.81,5.5],[2001.75,4.4],[2001.70,9.2],[2001.63,4.8],[2001.57,19.8],[2001.52,16.1],[2001.49,20],[2001.43,19.8],[2001.39,3.7],[2001.30,5.9],[2001.21,5.5],[2001.15,6.6],[2001.08,3.3],[2001.00,16.1],[2000.94,5.1],[2000.87,8.4],[2000.82,18.7],[2000.76,4.4],[2000.67,3.3],[2000.55,2.2],[2000.49,4.8],[2000.43,11.4],[2000.38,5.9],[2000.27,4.8],[2000.18,4.4],[2000.11,19.8],[2000.04,20],[1999.98,9.5],[1999.89,3.3],[1999.80,2.6],[1999.68,1.5],[1999.62,5.9],[1999.53,4.8],[1999.44,8.8],[1999.37,2.2],[1999.24,1.5],[1999.15,4.8],[1999.06,3.7],[1998.97,5.9],[1998.88,11],[1998.79,2.2],[1998.70,2.2],[1998.61,7.3],[1998.54,1.5],[1998.43,12.1],[1998.34,1.5],[1998.25,8.1],[1998.16,2.2],[1998.09,20],[1998.04,2.2],[1997.93,6.6],[1997.84,16.9],[1997.80,20],[1997.75,20],[1997.68,7.3],[1997.57,3.3],[1997.48,4.4],[1997.40,13.9],[1997.31,2.6],[1997.17,3.3],[1997.04,3.7],[1996.90,4.4],[1996.77,3.7],[1996.68,7.7],[1996.61,13.9],[1996.54,2.6],[1996.45,2.2],[1996.36,5.9],[1996.27,2.2],[1996.18,4.4],[1996.05,1.5],[1995.98,5.9],[1995.87,7.7],[1995.73,2.2],[1995.64,4.8],[1995.51,2.2],[1995.38,5.9],[1995.24,8.8],[1995.13,10.3],[1995.06,4.4],[1994.93,3.7],[1994.84,4.8],[1994.70,1.5],[1994.61,4.8],[1994.48,1.5],[1994.34,3.3],[1994.25,1.1],[1994.12,3.3],[1993.98,4.8],[1993.85,2.6],[1993.71,7.3],[1993.58,4.8],[1993.45,2.6],[1993.27,1.5],[1993.10,1.5],[1992.98,1.5],[1992.88,0.8],[1992.79,1.9],[1992.61,1.9],[1992.51,3.0],[1992.42,8.9],[1992.33,4.8],[1992.24,6.3],[1992.15,9.6],[1992.03,5.6],[1991.90,4.8],[1991.72,2.6],[1991.58,3.0],[1991.47,6.3],[1991.36,1.5],[1991.22,3.0],[1991.09,1.2],[1990.95,2.6],[1990.82,5.1],[1990.73,3.4],[1990.57,9.2],[1990.46,3.0],[1990.33,2.6],[1990.19,1.2],[1990.10,3.0],[1989.97,2.6],[1989.83,3.4],[1989.74,2.6],[1989.65,7.8],[1989.56,3.0],[1989.43,2.3],[1989.34,3.7],[1989.20,5.6],[1989.13,11.8],[1989.07,3.7],[1988.95,3.4],[1988.84,3.0],[1988.66,2.6],[1988.53,1.2],[1988.40,1.9],[1988.31,4.1],[1988.20,1.5],[1988.14,19.8],[1988.08,12.5],[1988.02,5.6],[1987.93,4.4],[1987.81,3.0],[1987.68,4.8],[1987.61,7.4],[1987.52,8.1],[1987.45,3.7],[1987.32,2.6],[1987.18,2.3],[1987.05,4.4],[1986.87,7.4],[1986.78,3.7],[1986.60,3.0],[1986.48,4.8],[1986.39,7.4],[1986.29,9.9],[1986.22,8.5],[1986.15,9.9],[1986.06,4.1],[1985.94,3.0],[1985.79,5.1],[1985.68,7.4],[1985.61,6.7],[1985.52,3.4],[1985.43,4.8],[1985.34,6.3],[1985.25,3.0],[1985.12,4.4],[1985.03,13.9],[1984.97,6.7],[1984.88,4.8],[1984.76,2.6],[1984.62,4.4],[1984.54,7.8],[1984.45,12.2],[1984.36,4.1],[1984.22,3.0],[1984.09,7.0],[1984.02,3.4],[1983.86,3.0],[1983.73,2.6],[1983.59,1.9],[1983.48,8.1],[1983.37,3.4],[1983.19,3.0],[1983.05,3.0],[1982.99,6.3],[1982.87,4.4],[1982.74,4.4],[1982.61,3.0],[1982.47,2.6],[1982.31,3.7],[1982.16,2.6],[1982.02,5.6],[1981.89,3.7],[1981.75,3.4],[1981.62,2.3],[1981.55,20],[1981.48,20],[1981.44,8.9],[1981.39,14.4],[1981.32,3.7],[1981.17,3.4],[1981.03,4.1],[1980.85,4.8],[1980.74,3.4],[1980.59,2.6],[1980.41,2.6],[1980.24,3.0],[1980.09,3.7],[1980.02,3.4]];

const arrowYears = [1998.40,1996.65,1993.69,1989.61,1982.41];

// ---------------- LAYOUT HELPERS ----------------
const W = 2210, H = 1243;
const PX = v => v / W, PY = v => 1 - v / H;
const F = 'Liberation Sans, Arial, sans-serif';
const FB = 'Comic Sans MS, Open Sans, DejaVu Sans, sans-serif';
const xs = a => a.map(p => p[0]), ys = a => a.map(p => p[1]);

function yAx(top, bottom, pos, range, dtick, mdtick, extra) {
  return Object.assign({
    domain: [PY(bottom), PY(top)], range: range, autorange: false,
    anchor: 'free', position: PX(pos), side: 'left',
    showline: true, linecolor: '#444', linewidth: 1.2,
    ticks: 'outside', ticklen: 18, tickwidth: 1.2, tickcolor: '#888',
    tick0: 0, dtick: dtick,
    minor: {dtick: mdtick, tick0: 0, ticks: 'outside', ticklen: 9, tickwidth: 1.2, tickcolor: '#888', showgrid: false},
    showgrid: false, zeroline: false,
    tickfont: {family: F, size: 15, color: '#111'},
    ticklabelstandoff: 4, fixedrange: true, automargin: false
  }, extra || {});
}
function hidden(ax) {
  const d0 = ax.domain[0], d1 = ax.domain[1], a = ax.range[0], b = ax.range[1], dd = d1 - d0, k = 1.2;
  const kl = Math.min(k, d0 / dd), kh = Math.min(k, (1 - d1) / dd);
  return {domain: [d0 - kl * dd, d1 + kh * dd], range: [a - kl * (b - a), b + kh * (b - a)],
          visible: false, anchor: 'free', position: 0, fixedrange: true};
}

const layout = {
  width: W, height: H, margin: {l: 0, r: 0, t: 0, b: 0},
  paper_bgcolor: '#ffffff', plot_bgcolor: 'rgba(0,0,0,0)', showlegend: false,
  xaxis: {
    domain: [PX(358), PX(1452)], range: [2002, 1980], autorange: false, anchor: 'y',
    showline: true, linecolor: '#555', linewidth: 1.5,
    ticks: 'outside', ticklen: 18, tickwidth: 1.2, tickcolor: '#555',
    tick0: 1980, dtick: 1, tickformat: 'd',
    minor: {dtick: 0.5, tick0: 1980, ticks: 'outside', ticklen: 9, tickwidth: 1.2, tickcolor: '#555', showgrid: false},
    tickfont: {family: F, size: 13, color: '#111'}, ticklabelstandoff: 6,
    showgrid: false, zeroline: false, fixedrange: true, automargin: false,
    title: {text: 'YEAR (AD)', font: {family: F, size: 15, color: '#111'}, standoff: 2}
  },
  yaxis: {domain: [PY(1172), PY(77)], range: [0, 1], visible: false, fixedrange: true},
  yaxis2: yAx(51, 233, 275, [-4, 4], 2, 1),
  yaxis3: yAx(246, 337, 350, [0, 0.6], 0.2, 0.1),
  yaxis4: yAx(313, 496, 240, [230, 270], 10, 5),
  yaxis5: yAx(460, 643, 351, [-44, -24], 4, 2),
  yaxis6: yAx(516, 698, 273, [0, 500], 100, 50),
  yaxis7: yAx(567, 749, 193, [0, 120], 40, 20),
  yaxis8: yAx(663, 846, 349, [0, 160], 40, 20),
  yaxis9: yAx(839, 885, 227, [0, 1], 0.5, 0.1, {showticklabels: false, ticklen: 16}),
  yaxis10: yAx(871, 917, 277, [0, 1], 0.5, 0.1, {showticklabels: false, ticklen: 16}),
  yaxis11: yAx(899, 945, 325, [0, 1], 0.5, 0.1, {showticklabels: false, ticklen: 16}),
  yaxis12: yAx(926, 1010, 237, [0, 120], 40, 20),
  yaxis13: yAx(982, 1073, 305, [0, 40], 10, 5),
  yaxis14: yAx(1076, 1167, 353, [0, 20], 4, 2),
  shapes: [], annotations: []
};
layout.yaxis15 = hidden(layout.yaxis7);
layout.yaxis16 = hidden(layout.yaxis8);
layout.yaxis17 = hidden(layout.yaxis12);
layout.yaxis18 = hidden(layout.yaxis13);

// vertical year lines
halfYears.forEach(yr => layout.shapes.push({type: 'line', xref: 'x', yref: 'paper', x0: yr, x1: yr, y0: PY(1172), y1: PY(77), layer: 'below', line: {color: '#cfcfcf', width: 1}}));
majorYears.forEach(yr => layout.shapes.push({type: 'line', xref: 'x', yref: 'paper', x0: yr, x1: yr, y0: PY(1172), y1: PY(77), layer: 'below', line: {color: '#555', width: 1}}));

function pxPath(s) {
  return s.replace(/(-?\d+(?:\.\d+)?),(-?\d+(?:\.\d+)?)/g, (m, a, b) => (PX(+a)).toFixed(5) + ',' + (PY(+b)).toFixed(5));
}
// outer frame
layout.shapes.push({type: 'path', xref: 'paper', yref: 'paper', path: pxPath('M 99,1243 L 99,4 L 1497,4 L 1497,1243'), line: {color: '#888', width: 1.5}});
// brace
layout.shapes.push({type: 'path', xref: 'paper', yref: 'paper',
  path: pxPath('M 1704,368 Q 1766,370 1766,382 L 1766,772 Q 1766,784 1829,785 Q 1766,786 1766,798 L 1766,1186 Q 1766,1197 1704,1198'),
  line: {color: '#4472c4', width: 1.6}});
// title underline
layout.shapes.push({type: 'line', xref: 'paper', yref: 'paper', x0: PX(793), x1: PX(847), y0: PY(68), y1: PY(68), line: {color: '#000', width: 2}});

function T(text, x, y, font, extra) {
  return Object.assign({text: text, xref: 'paper', yref: 'paper', x: PX(x), y: PY(y), showarrow: false,
    xanchor: 'center', yanchor: 'middle', font: Object.assign({family: F, size: 15, color: '#000'}, font)}, extra || {});
}
const R = {textangle: -90};
const A = layout.annotations;
// axis titles
A.push(T('SOI', 221, 142, {color: '#ff7f3f'}, R));
A.push(T('Annual H2O', 287, 291, {color: '#00e5ee'}, R));
A.push(T('IR-temps', 172, 403, {color: '#ff8c2a'}, R));
A.push(T('O18', 288, 551, {color: '#a040ff'}, R));
A.push(T('H2O2', 206, 607, {color: '#0000ff', size: 17}, R));
A.push(T('nssSO4', 125, 657, {color: '#ff0000', size: 16}, R));
A.push(T('Na', 283, 754, {color: '#008000'}, R));
A.push(T('Summer<br>Picks', 185, 860, {color: '#a040ff', size: 14}, R));
A.push(T('Crusts', 244, 893, {color: '#8b1a1a', size: 14}, R));
A.push(T('Melts', 293, 922, {color: '#008000', size: 14}, R));
A.push(T('NO3', 170, 963, {color: '#ff00ff'}, R));
A.push(T('xsCl', 249, 1027, {color: '#ff6a00'}, R));
A.push(T('nssCa', 294, 1121, {color: '#0000ff'}, R));
// big labels
A.push(T('<b>SOI</b>', 185, 79, {family: FB, size: 40, color: '#ff0000'}));
A.push(T('<b>IR Temp</b>', 97, 352, {family: FB, size: 36, color: '#ff8000'}));
A.push(T('<b>Annual</b>', 1510, 255, {family: FB, size: 31, color: '#00ffff'}, {xanchor: 'left'}));
A.push(T('<b>Mean H<sub>2</sub>O</b>', 1510, 299, {family: FB, size: 32, color: '#00ffff'}, {xanchor: 'left'}));
A.push(T('<b><sup>18</sup>O</b>', 1553, 512, {family: FB, size: 33, color: '#800080'}));
A.push(T('<b>H<sub>2</sub>O</b>', 1546, 578, {family: FB, size: 33, color: '#0000ff'}));
A.push(T('<b>2</b>', 1514, 633, {family: FB, size: 18, color: '#0000ff'}));
A.push(T('<b>nssSO4</b>', 1576, 657, {family: FB, size: 34, color: '#ff0000'}));
A.push(T('<b>Na</b>', 1549, 753, {family: FB, size: 33, color: '#1565c0'}));
A.push(T('<b>Strat Picks</b>', 1595, 833, {family: FB, size: 29, color: '#000'}));
A.push(T('<b>NO<sub>3</sub></b>', 1561, 946, {family: FB, size: 31, color: '#800080'}));
A.push(T('<b>exCl</b>', 1561, 1009, {family: FB, size: 31, color: '#ff8000'}));
A.push(T('<b>nssCa</b>', 1574, 1104, {family: FB, size: 33, color: '#0000ff'}));
A.push(T('cross-dating', 2040, 785, {family: 'Noto Sans CJK SC, Noto Sans, sans-serif', size: 46, color: '#111'}));
A.push(T('<b>01-5</b>', 819, 56, {size: 24, color: '#000'}));
A.push(T('<b>2002</b>', 337, 1202, {size: 38, color: '#000'}));
A.push(T('<b>1992</b>', 853, 1219, {size: 38, color: '#000'}));
A.push(T('<b>1980</b>', 1458, 1205, {size: 38, color: '#000'}));
// double arrows
const arrowSpan = [[448, 496], [468, 544], [465, 535], [471, 528], [462, 541]];
arrowYears.forEach((yr, i) => A.push({
  text: '', xref: 'x', yref: 'paper', x: yr, y: PY(arrowSpan[i][0]), axref: 'pixel', ayref: 'pixel',
  ax: 0, ay: arrowSpan[i][1] - arrowSpan[i][0], showarrow: true, arrowhead: 2, arrowside: 'end+start',
  arrowsize: 1.2, arrowwidth: 1.5, arrowcolor: '#000', standoff: 0, startstandoff: 0
}));

// ---------------- TRACES ----------------
function line(data, yaxis, color, width) {
  return {type: 'scatter', mode: 'lines', x: xs(data), y: ys(data), xaxis: 'x', yaxis: yaxis,
    line: {color: color, width: width}, hoverinfo: 'skip', showlegend: false};
}
function ticks(years, yaxis, color, width) {
  const x = [], y = [];
  years.forEach(yr => { x.push(yr, yr, null); y.push(0, 1, null); });
  return {type: 'scatter', mode: 'lines', x: x, y: y, xaxis: 'x', yaxis: yaxis,
    line: {color: color, width: width}, hoverinfo: 'skip', showlegend: false};
}
function dummy(yaxis) {
  return {type: 'scatter', mode: 'lines', x: [2002], y: [null], xaxis: 'x', yaxis: yaxis, hoverinfo: 'skip', showlegend: false};
}
const traces = [
  dummy('y'), dummy('y7'), dummy('y8'), dummy('y12'), dummy('y13'),
  line(soi, 'y2', '#f8905a', 1),
  {type: 'bar', x: h2oYears, y: h2oMean, width: 1, xaxis: 'x', yaxis: 'y3',
   marker: {color: '#00ffff', line: {color: '#000', width: 1.5}}, hoverinfo: 'skip', showlegend: false},
  line(irTemp, 'y4', '#f57c1f', 1.5),
  line(o18, 'y5', '#9933ff', 1.5),
  line(h2o2, 'y6', '#0000ff', 1.8),
  line(nssSO4, 'y15', '#ff0000', 1.3),
  line(na, 'y16', '#008000', 1.3),
  ticks(summerPicksFaint, 'y9', '#cf8cf0', 2),
  ticks(summerPicks, 'y9', '#a020f0', 2),
  ticks(crustsFaint, 'y10', '#c08080', 2),
  ticks(crusts, 'y10', '#8b0000', 2),
  ticks(melts, 'y11', '#008000', 1.6),
  line(no3, 'y17', '#ff44ff', 1),
  line(xsCl, 'y18', '#ff7f40', 1),
  line(nssCa, 'y14', '#3333ff', 1)
];

Plotly.newPlot('chart', traces, layout, {staticPlot: true, displayModeBar: false});
</script>
</body></html>
